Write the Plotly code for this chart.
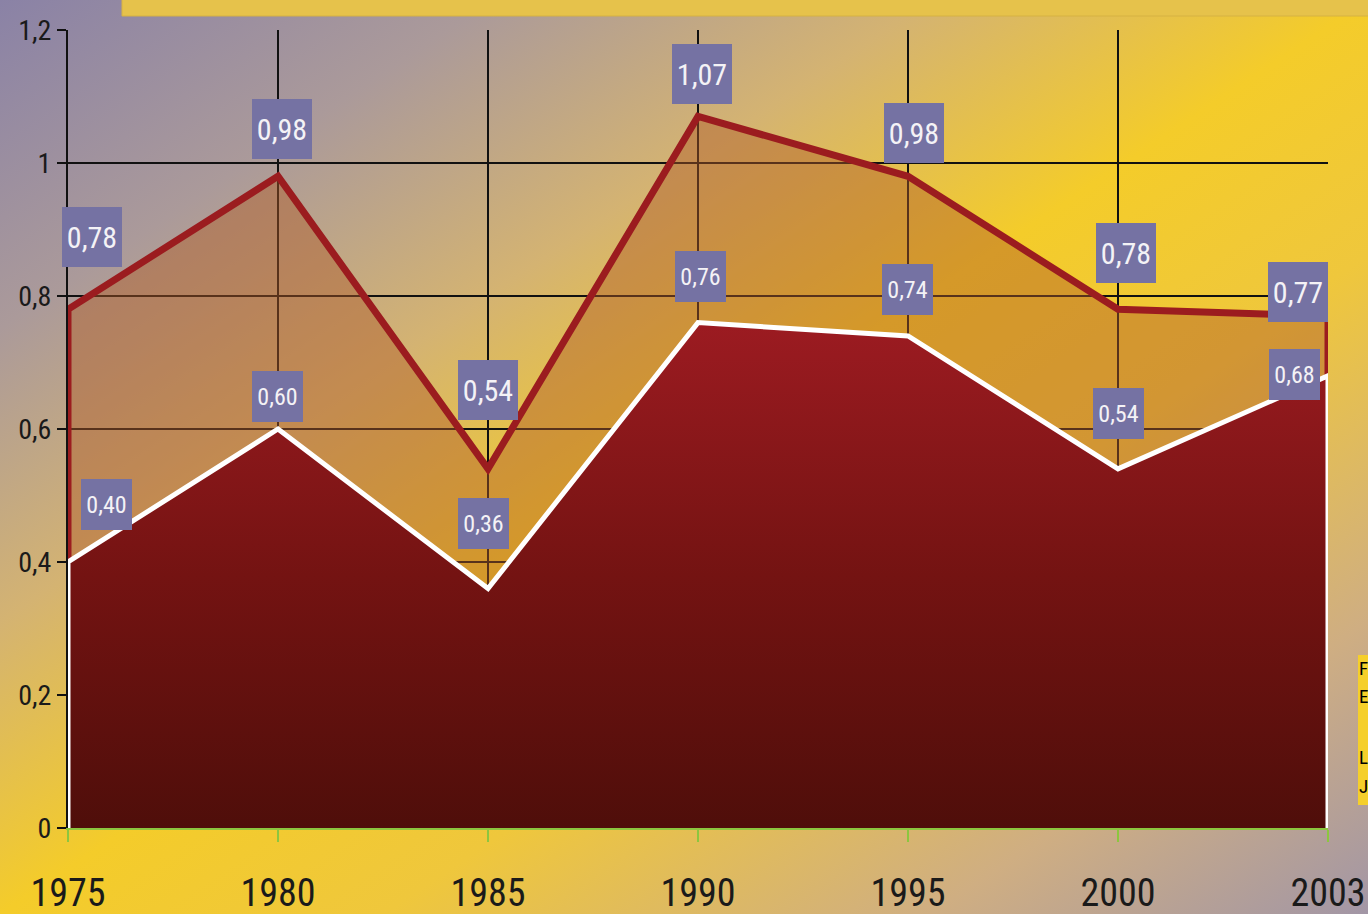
import base64
import plotly.graph_objects as go

# ---------------- data ----------------
years = ["1975", "1980", "1985", "1990", "1995", "2000", "2003"]
upper_values = [0.78, 0.98, 0.54, 1.07, 0.98, 0.78, 0.77]
lower_values = [0.40, 0.60, 0.36, 0.76, 0.74, 0.54, 0.68]
y_ticks = [0, 0.2, 0.4, 0.6, 0.8, 1.0, 1.2]
side_note_lines = ["F", "E", "L", "J"]

# ---------------- styling / layout helpers ----------------
W, H = 1368, 914
ML, MR, MT, MB = 68, 40, 30, 86
PW, PH = W - ML - MR, H - MT - MB

NARROW = "Liberation Sans Narrow, Arial Narrow, Roboto Condensed, Open Sans, sans-serif"

# label offsets in pixels (xshift, yshift) for each point
upper_offsets = [(24, 72), (4, 47), (0, 79), (4, 42), (6, 43), (8, 56), (-30, 24)]
lower_offsets = [(38, 58), (-1, 33), (-5, 65), (2, 46), (-1, 46), (0, 55), (-34, 1)]
side_note_py = [668, 696, 757, 786]


def px_x(p):
    return (p - ML) / PW


def px_y(p):
    return (H - MB - p) / PH


svg = f"""<svg xmlns='http://www.w3.org/2000/svg' width='{W}' height='{H}' viewBox='0 0 {W} {H}' preserveAspectRatio='none'>
<defs><linearGradient id='g' x1='0' y1='0' x2='1' y2='1'>
<stop offset='0' stop-color='#8a82a6'/>
<stop offset='0.18' stop-color='#ab9a9a'/>
<stop offset='0.34' stop-color='#d4b372'/>
<stop offset='0.5' stop-color='#f4cc2a'/>
<stop offset='0.64' stop-color='#efc73c'/>
<stop offset='0.84' stop-color='#cfae82'/>
<stop offset='1' stop-color='#a296a6'/>
</linearGradient></defs>
<rect x='0' y='0' width='{W}' height='{H}' fill='url(#g)'/>
</svg>"""
svg_uri = "data:image/svg+xml;base64," + base64.b64encode(svg.encode()).decode()

fig = go.Figure()

# upper area (closed polygon down to zero)
fig.add_trace(go.Scatter(
    x=[years[0]] + years + [years[-1]],
    y=[0] + upper_values + [0],
    mode="lines",
    fill="toself",
    fillcolor="rgba(175,90,40,0.45)",
    line=dict(color="#9b1c1f", width=7),
    hoverinfo="skip",
    showlegend=False,
))

# lower area with vertical gradient
fig.add_trace(go.Scatter(
    x=[years[0]] + years + [years[-1]],
    y=[0] + lower_values + [0],
    mode="lines",
    fill="toself",
    fillgradient=dict(type="vertical",
                      colorscale=[[0, "#4f0e0a"], [0.5, "#741312"], [1, "#9c1b21"]]),
    line=dict(color="white", width=5),
    hoverinfo="skip",
    showlegend=False,
))

annotations = []


def fmt(v):
    return f"{v:.2f}".replace(".", ",")


for i, (v, (dx, dy)) in enumerate(zip(upper_values, upper_offsets)):
    annotations.append(dict(
        x=i, y=v, xref="x", yref="y", text=fmt(v), showarrow=False,
        xshift=dx, yshift=dy, width=58, height=58, bgcolor="#7572a3",
        borderpad=1, borderwidth=0, valign="middle",
        font=dict(family=NARROW, size=30, color="#f4f2f6"),
    ))

for i, (v, (dx, dy)) in enumerate(zip(lower_values, lower_offsets)):
    annotations.append(dict(
        x=i, y=v, xref="x", yref="y", text=fmt(v), showarrow=False,
        xshift=dx, yshift=dy, width=49, height=49, bgcolor="#7572a3",
        borderpad=1, borderwidth=0, valign="middle",
        font=dict(family=NARROW, size=24, color="#f4f2f6"),
    ))

# side note on the right (partly outside the original frame)
for txt, py in zip(side_note_lines, side_note_py):
    annotations.append(dict(
        x=px_x(1357), y=px_y(py), xref="paper", yref="paper",
        text=txt, showarrow=False, xanchor="left", yanchor="middle",
        align="left", font=dict(family=NARROW, size=19, color="black"),
    ))

shapes = [
    # top banner
    dict(type="rect", xref="paper", yref="paper", x0=px_x(122), x1=px_x(W + 5),
         y0=px_y(16), y1=px_y(-5), fillcolor="#e6c24b", line=dict(color="#d6b243", width=1),
         layer="above"),
    # right side box
    dict(type="rect", xref="paper", yref="paper", x0=px_x(1358), x1=px_x(W + 5),
         y0=px_y(805), y1=px_y(655), fillcolor="#f5cf2a", line=dict(width=0),
         layer="below"),
]

fig.update_layout(
    width=W, height=H,
    margin=dict(l=ML, r=MR, t=MT, b=MB, autoexpand=False),
    paper_bgcolor="#e8c24a",
    plot_bgcolor="rgba(0,0,0,0)",
    separators=",.",
    font=dict(family=NARROW, color="#1a1a1a"),
    images=[dict(source=svg_uri, xref="paper", yref="paper",
                 x=px_x(0), y=px_y(0), sizex=W / PW, sizey=H / PH,
                 xanchor="left", yanchor="top", sizing="stretch", layer="below")],
    annotations=annotations,
    shapes=shapes,
    xaxis=dict(
        type="category", categoryorder="array", categoryarray=years,
        range=[0, len(years) - 1], automargin=False,
        showgrid=True, gridcolor="#111111", gridwidth=2,
        showline=True, linecolor="#8cc63f", linewidth=2,
        ticks="outside", ticklen=12, tickcolor="#8cc63f", tickwidth=2,
        ticklabelstandoff=18,
        tickfont=dict(family=NARROW, size=38, color="#1a1a1a"),
        fixedrange=True,
    ),
    yaxis=dict(
        range=[0, 1.2], tickvals=y_ticks, automargin=False,
        showgrid=True, gridcolor="#111111", gridwidth=2, zeroline=False,
        showline=True, linecolor="#111111", linewidth=2,
        ticks="outside", ticklen=9, tickcolor="#111111", tickwidth=2,
        tickfont=dict(family=NARROW, size=28, color="#1a1a1a"),
        fixedrange=True,
    ),
)

fig.write_html(
    "out.html",
    config={"displayModeBar": False, "staticPlot": True},
    post_script="document.body.style.margin='0';document.body.style.overflow='hidden';",
)
